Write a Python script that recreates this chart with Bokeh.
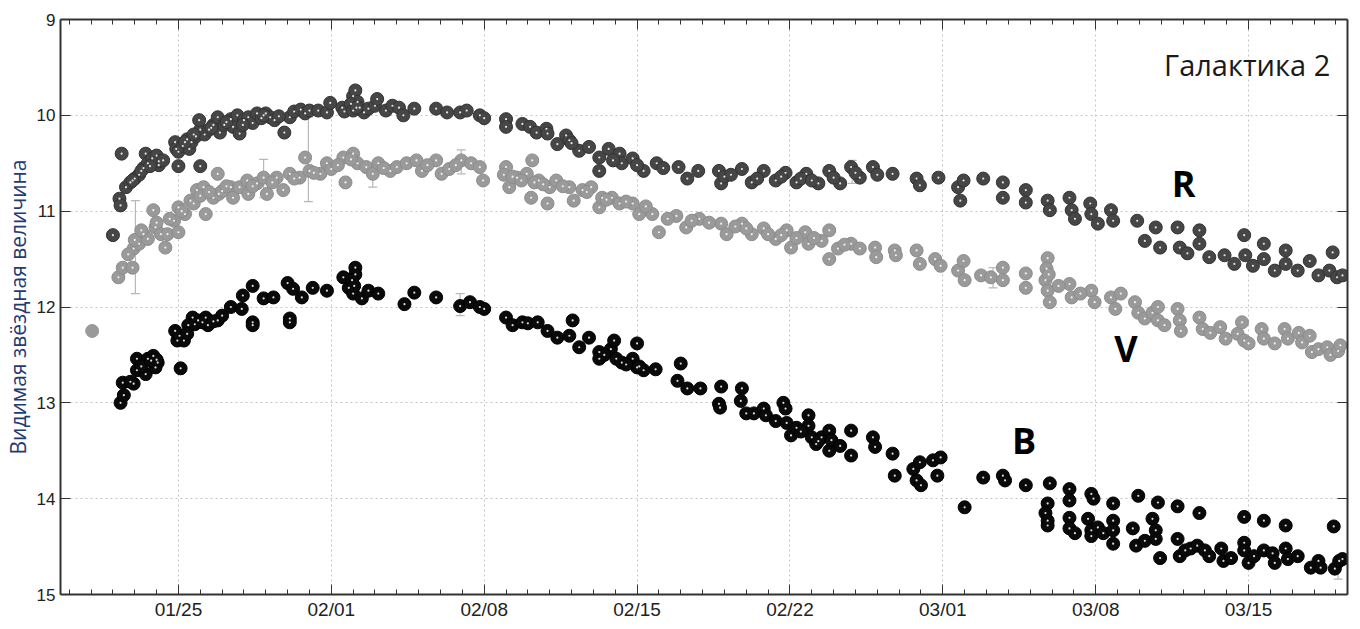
from bokeh.plotting import figure
from bokeh.models import (Range1d, FixedTicker, LinearAxis, ColumnDataSource,
                          Whisker, TeeHead, Label)
from bokeh.embed import file_html
from bokeh.resources import INLINE

# x = day of year (Jan 25 = 25, Feb 1 = 32, ...)
tick_days = [25, 32, 39, 46, 53, 60, 67, 74]
tick_labels = ["01/25", "02/01", "02/08", "02/15", "02/22", "03/01", "03/08", "03/15"]
minor_days = list(range(20, 79))
mag_ticks = [9, 10, 11, 12, 13, 14, 15]

r_day = [22.0, 22.4, 22.3, 22.35, 22.6, 22.8, 23.0, 23.2, 23.4, 23.5, 23.6, 23.8, 24.0, 24.1, 24.1,
         24.85, 24.9, 25.0, 25.0, 25.2, 25.4, 25.5, 25.6, 26.0, 25.8, 26.0, 25.95, 26.2, 26.4, 26.6,
         26.8, 26.9, 27.1, 27.4, 27.5, 27.7, 27.8, 28.0, 28.2, 28.4, 28.6, 28.8, 29.0, 29.2, 29.4,
         29.85, 30.1, 30.3, 30.6, 30.8, 31.0, 31.4, 31.8, 31.95, 32.5, 32.6, 33.0, 33.1, 33.2, 33.3,
         33.5, 33.7, 34.0, 34.1, 34.5, 34.8, 35.1, 35.3, 35.8, 36.8, 37.9, 38.2, 38.8, 39.0, 40.0,
         40.0, 40.75, 41.1, 41.4, 41.85, 41.9, 42.35, 42.75, 42.9, 43.35, 43.8, 44.27, 44.27, 44.7,
         45.2, 45.3, 45.8, 46.3, 46.9, 47.9, 48.3, 48.8, 49.75, 49.85, 50.8, 51.25, 51.8, 52.35,
         52.8, 53.3, 53.75, 54.3, 54.8, 55.3, 55.8, 56.2, 56.8, 57.7, 58.8, 58.95, 59.8, 60.7, 60.8,
         60.95, 61.85, 62.75, 62.75, 63.8, 63.8, 64.8, 64.9, 65.8, 65.9, 66.05, 66.75, 66.8, 67.1,
         67.7, 67.8, 68.9, 69.25, 69.75, 69.95, 70.75, 70.85, 71.2, 71.75, 71.75, 72.2, 72.9, 73.35,
         73.8, 73.85, 74.2, 74.7, 74.7, 75.2, 75.7, 75.7, 76.25, 76.8, 77.2, 77.7, 77.85, 78.05, 78.3,
         22.9, 23.3, 23.7, 24.3, 25.3, 25.7, 26.5, 27.2, 27.95, 28.9, 29.6, 32.9, 33.0, 33.15, 37.3,
         43.0, 44.9, 46.0, 47.2, 50.0, 50.3, 51.5, 52.6, 53.5, 54.0, 55.0, 56.0, 57.0]
r_mag = [11.25, 10.40, 10.87, 10.94, 10.75, 10.70, 10.66, 10.62, 10.55, 10.40, 10.50, 10.45, 10.42, 10.52, 10.48,
         10.28, 10.35, 10.38, 10.53, 10.32, 10.25, 10.35, 10.28, 10.53, 10.22, 10.15, 10.05, 10.20, 10.15, 10.10,
         10.02, 10.18, 10.10, 10.04, 10.12, 10.00, 10.19, 10.05, 10.02, 10.08, 9.98, 10.03, 9.98, 10.02, 10.05,
         10.18, 10.02, 9.96, 9.94, 9.98, 9.95, 9.95, 9.97, 9.87, 9.92, 9.96, 9.80, 9.74, 9.86, 9.92,
         9.97, 9.93, 9.90, 9.83, 9.95, 9.90, 9.92, 10.00, 9.93, 9.93, 9.97, 9.95, 10.00, 10.03, 10.04,
         10.12, 10.09, 10.12, 10.18, 10.14, 10.19, 10.30, 10.21, 10.26, 10.37, 10.33, 10.44, 10.58, 10.35,
         10.40, 10.50, 10.45, 10.58, 10.50, 10.54, 10.66, 10.58, 10.58, 10.71, 10.56, 10.70, 10.58, 10.68,
         10.60, 10.70, 10.61, 10.71, 10.58, 10.71, 10.54, 10.65, 10.54, 10.61, 10.66, 10.73, 10.65, 10.75, 10.89,
         10.68, 10.66, 10.70, 10.86, 10.78, 10.91, 10.89, 10.99, 10.86, 10.99, 11.08, 10.92, 11.03, 11.13,
         10.99, 11.10, 11.10, 11.31, 11.17, 11.38, 11.17, 11.38, 11.44, 11.20, 11.34, 11.48, 11.46, 11.55,
         11.25, 11.46, 11.57, 11.34, 11.50, 11.62, 11.41, 11.55, 11.62, 11.52, 11.67, 11.62, 11.43, 11.69, 11.67,
         10.68, 10.58, 10.53, 10.47, 10.28, 10.20, 10.13, 10.07, 10.10, 10.00, 10.01, 9.88, 9.95, 9.92, 9.97,
         10.29, 10.47, 10.52, 10.55, 10.64, 10.62, 10.66, 10.64, 10.66, 10.68, 10.65, 10.60, 10.62]

v_day = [22.25, 22.45, 22.9, 22.95, 23.2, 23.4, 23.6, 23.85, 23.95, 24.2, 24.4, 24.5, 24.8, 25.0, 25.0,
         25.3, 25.55, 25.85, 26.15, 26.25, 26.6, 26.8, 26.85, 27.4, 27.5, 27.8, 28.15, 28.2, 28.6, 28.9,
         29.05, 29.5, 29.8, 30.1, 30.55, 30.8, 31.0, 31.5, 31.8, 32.55, 32.65, 33.0, 33.2, 33.6, 33.9,
         34.15, 34.7, 35.0, 35.45, 35.9, 36.15, 36.8, 37.05, 37.4, 37.95, 38.4, 38.8, 38.95, 40.0, 40.15,
         40.5, 40.95, 41.15, 41.2, 41.5, 41.9, 42.0, 42.3, 42.9, 43.1, 43.5, 43.9, 44.27, 44.4, 44.85,
         45.2, 45.8, 46.1, 46.7, 47.0, 47.8, 48.25, 48.85, 49.85, 50.1, 50.8, 51.25, 51.8, 52.35, 52.85,
         53.05, 53.7, 53.85, 54.45, 54.8, 54.8, 55.2, 55.8, 56.2, 56.9, 56.95, 57.8, 57.85, 58.8, 58.95,
         59.65, 59.9, 60.7, 60.95, 61.0, 61.75, 62.2, 62.75, 62.75, 63.8, 63.8, 64.8, 64.7, 64.8, 64.9,
         65.8, 65.9, 66.8, 66.95, 67.7, 67.9, 68.15, 68.8, 68.95, 69.25, 69.6, 69.85, 69.85, 70.15, 70.75,
         70.85, 70.9, 71.75, 71.9, 72.25, 72.7, 72.95, 73.5, 73.7, 73.8, 74.0, 74.6, 74.7, 75.2, 75.65,
         75.8, 76.3, 76.45, 76.8, 76.9, 77.2, 77.6, 77.75, 78.1, 78.2,
         22.7, 23.0, 23.3, 24.0, 24.6, 25.15, 25.7, 26.0, 26.4, 27.0, 27.2, 28.4, 29.3, 30.3, 31.2,
         32.0, 32.3, 32.9, 34.4, 36.4, 37.7, 39.9, 40.3, 40.7, 41.3, 41.7, 42.6, 43.7, 44.6, 45.5,
         46.4, 47.4, 48.5, 49.3, 50.5, 51.0, 52.0, 52.6, 53.3, 54.1, 55.5, 64.75, 64.85, 65.3, 66.3]
v_mag = [11.69, 11.59, 11.59, 11.39, 11.34, 11.24, 11.29, 10.99, 11.17, 11.24, 11.38, 11.24, 11.10, 10.96, 11.22,
         11.03, 10.89, 10.78, 10.75, 11.03, 10.86, 10.61, 10.82, 10.75, 10.86, 10.75, 10.68, 10.82, 10.71, 10.65,
         10.82, 10.65, 10.78, 10.61, 10.65, 10.44, 10.58, 10.61, 10.50, 10.44, 10.70, 10.40, 10.50, 10.54, 10.61,
         10.50, 10.58, 10.54, 10.50, 10.47, 10.58, 10.47, 10.61, 10.56, 10.47, 10.50, 10.54, 10.68, 10.54, 10.75,
         10.65, 10.61, 10.86, 10.47, 10.68, 10.92, 10.75, 10.68, 10.75, 10.89, 10.78, 10.75, 10.96, 10.86, 10.86,
         10.92, 10.92, 11.03, 11.03, 11.22, 11.05, 11.17, 11.08, 11.13, 11.24, 11.13, 11.24, 11.18, 11.29, 11.20,
         11.38, 11.22, 11.34, 11.31, 11.20, 11.50, 11.39, 11.34, 11.39, 11.38, 11.48, 11.41, 11.46, 11.41, 11.55,
         11.50, 11.57, 11.62, 11.52, 11.72, 11.67, 11.69, 11.59, 11.72, 11.65, 11.80, 11.49, 11.72, 11.83, 11.95,
         11.76, 11.90, 11.83, 11.95, 11.90, 12.02, 11.86, 11.95, 12.06, 12.12, 12.06, 12.00, 12.14, 12.19, 12.02,
         12.14, 12.25, 12.11, 12.23, 12.27, 12.21, 12.33, 12.28, 12.16, 12.35, 12.38, 12.23, 12.33, 12.38, 12.23,
         12.33, 12.27, 12.37, 12.30, 12.47, 12.44, 12.42, 12.50, 12.46, 12.40,
         11.45, 11.30, 11.20, 11.12, 11.08, 11.00, 10.92, 10.84, 10.80, 10.79, 10.74, 10.74, 10.70, 10.66, 10.60,
         10.56, 10.52, 10.46, 10.55, 10.52, 10.52, 10.62, 10.64, 10.68, 10.70, 10.72, 10.74, 10.80, 10.88, 10.90,
         10.95, 11.08, 11.10, 11.12, 11.16, 11.18, 11.24, 11.25, 11.28, 11.28, 11.35, 11.60, 11.66, 11.78, 11.86]

# early V measurement without flag
v0_day = [21.05]
v0_mag = [12.25]

b_day = [22.35, 22.5, 22.45, 22.95, 23.1, 23.1, 23.5, 23.6, 23.85, 24.05, 23.95, 24.85, 24.95, 25.25, 25.1,
         25.65, 25.45, 25.9, 26.25, 26.35, 26.8, 27.0, 27.4, 27.9, 28.4, 28.4, 30.1, 30.1, 27.95, 28.4,
         28.9, 29.35, 30.0, 30.25, 30.65, 31.15, 31.8, 32.55, 32.8, 33.1, 33.1, 33.0, 33.4, 33.7, 34.15,
         35.35, 35.8, 36.8, 37.9, 38.35, 38.8, 39.0, 40.0, 40.3, 40.75, 41.0, 41.45, 41.9, 42.35, 42.9,
         43.05, 43.35, 43.8, 44.27, 44.27, 44.8, 44.95, 45.05, 45.3, 45.8, 46.0, 46.0, 46.3, 46.85, 47.85,
         48.0, 48.3, 48.9, 49.75, 49.8, 49.85, 50.75, 50.8, 51.0, 51.35, 51.8, 51.9, 52.35, 52.7, 52.8,
         52.85, 53.05, 53.3, 53.85, 53.85, 54.0, 54.2, 54.45, 54.8, 54.8, 54.9, 55.3, 55.8, 55.8, 56.8,
         56.9, 57.7, 57.8, 58.65, 58.95, 58.8, 59.0, 59.55, 59.9, 59.75, 61.0, 61.85, 62.75, 62.85, 63.8,
         64.9, 64.8, 64.7, 64.8, 64.8, 65.8, 65.8, 65.8, 65.8, 66.05, 66.8, 66.9, 66.65, 66.8, 66.8,
         67.1, 67.35, 67.8, 67.8, 67.8, 67.8, 68.95, 68.7, 68.85, 69.25, 69.6, 69.75, 69.75, 69.85, 69.95,
         70.75, 70.75, 70.85, 71.1, 71.35, 71.75, 71.65, 72.0, 72.2, 72.75, 72.85, 73.2, 73.8, 73.8, 73.8,
         74.0, 74.25, 74.7, 74.7, 75.1, 75.2, 75.7, 75.7, 75.8, 76.25, 76.85, 77.2, 77.3, 77.9, 77.95,
         78.15, 78.3,
         22.8, 23.3, 23.75, 24.0, 25.05, 25.4, 25.75, 26.1, 26.6, 32.95, 33.05, 44.5, 45.5, 46.1, 53.5, 54.3]
b_mag = [13.00, 12.92, 12.79, 12.80, 12.54, 12.66, 12.70, 12.54, 12.51, 12.58, 12.63, 12.25, 12.35, 12.35, 12.64,
         12.11, 12.19, 12.14, 12.11, 12.19, 12.14, 12.09, 12.00, 12.02, 12.16, 12.19, 12.12, 12.16, 11.88, 11.78,
         11.91, 11.90, 11.75, 11.81, 11.90, 11.80, 11.83, 11.69, 11.80, 11.59, 11.66, 11.86, 11.91, 11.83, 11.86,
         11.97, 11.85, 11.90, 11.99, 11.95, 12.00, 12.02, 12.11, 12.19, 12.16, 12.17, 12.16, 12.25, 12.32, 12.30,
         12.14, 12.42, 12.32, 12.47, 12.54, 12.44, 12.35, 12.54, 12.58, 12.54, 12.38, 12.63, 12.66, 12.65, 12.77,
         12.59, 12.85, 12.85, 13.01, 13.05, 12.83, 12.98, 12.85, 13.11, 13.11, 13.06, 13.13, 13.19, 13.00, 13.06,
         13.21, 13.34, 13.26, 13.13, 13.24, 13.36, 13.43, 13.36, 13.29, 13.50, 13.39, 13.45, 13.29, 13.55, 13.36,
         13.46, 13.53, 13.76, 13.69, 13.62, 13.81, 13.86, 13.60, 13.57, 13.76, 14.09, 13.78, 13.76, 13.81, 13.86,
         13.84, 14.05, 14.15, 14.23, 14.28, 13.90, 14.02, 14.20, 14.31, 14.36, 13.95, 14.00, 14.21, 14.33, 14.39,
         14.30, 14.36, 14.05, 14.23, 14.33, 14.47, 13.97, 14.31, 14.49, 14.44, 14.21, 14.33, 14.42, 14.04, 14.62,
         14.08, 14.42, 14.60, 14.54, 14.52, 14.15, 14.49, 14.54, 14.60, 14.52, 14.65, 14.62, 14.19, 14.46, 14.54,
         14.67, 14.60, 14.23, 14.54, 14.57, 14.67, 14.28, 14.52, 14.63, 14.60, 14.72, 14.65, 14.72, 14.29, 14.73,
         14.65, 14.63,
         12.78, 12.62, 12.56, 12.55, 12.30, 12.28, 12.18, 12.16, 12.15, 11.72, 11.78, 12.50, 12.60, 12.62, 13.30, 13.40]

# error bars
eb_day = [23.03, 28.9, 30.95, 33.9, 37.95, 37.9, 55.85, 62.3, 78.1]
eb_lo = [10.89, 10.46, 10.02, 10.65, 10.36, 11.86, 10.47, 11.59, 14.72]
eb_hi = [11.86, 10.86, 10.90, 10.75, 10.61, 12.09, 10.71, 11.80, 14.84]

R_COLOR = "#464646"
V_COLOR = "#9a9a9a"
B_COLOR = "#0a0a0a"

p = figure(width=1360, height=629, output_backend="svg", toolbar_location=None,
           x_range=Range1d(19.6, 78.53), y_range=Range1d(15, 9),
           min_border_left=60, min_border_right=13, min_border_top=19, min_border_bottom=35)
p.outline_line_color = None
p.background_fill_color = "white"
p.border_fill_color = "white"

xt = FixedTicker(ticks=tick_days, minor_ticks=minor_days)
yt = FixedTicker(ticks=mag_ticks, minor_ticks=[])

ax = p.xaxis[0]
ax.ticker = xt
ax.major_label_overrides = {d: lab for d, lab in zip(tick_days, tick_labels)}
ay = p.yaxis[0]
ay.ticker = yt
ay.axis_label = "Видимая звёздная величина"
ay.axis_label_text_font = "Open Sans"
ay.axis_label_text_font_style = "normal"
ay.axis_label_text_font_size = "21px"
ay.axis_label_text_color = "#1f3b73"
ay.axis_label_standoff = 2

for a in (ax, ay):
    a.axis_line_color = "#333333"
    a.axis_line_width = 2
    a.major_tick_in = 10
    a.major_tick_out = 0
    a.minor_tick_in = 5
    a.minor_tick_out = 0
    a.major_tick_line_color = "#333333"
    a.minor_tick_line_color = "#333333"
    a.major_label_text_font = "Liberation Sans"
    a.major_label_text_color = "#222222"
    a.major_label_standoff = 5
ax.major_label_text_font_size = "19px"
ay.major_label_text_font_size = "17px"
ax.major_label_standoff = 4

top = LinearAxis(ticker=xt, major_label_text_color=None, major_label_standoff=0,
                 major_label_text_font_size="1px",
                 axis_line_color="#333333", axis_line_width=2,
                 major_tick_in=10, major_tick_out=0, minor_tick_in=5, minor_tick_out=0,
                 major_tick_line_color="#333333", minor_tick_line_color="#333333")
right = LinearAxis(ticker=yt, major_label_text_color=None, major_label_standoff=0,
                   major_label_text_font_size="1px",
                   axis_line_color="#333333", axis_line_width=2,
                   major_tick_in=10, major_tick_out=0, minor_tick_line_color=None,
                   major_tick_line_color="#333333")
p.add_layout(top, "above")
p.add_layout(right, "right")

p.xgrid.ticker = xt
p.ygrid.ticker = yt
for g in (p.xgrid[0], p.ygrid[0]):
    g.grid_line_color = "#c4c4c4"
    g.grid_line_dash = "2 3"
    g.grid_line_width = 1

eb_src = ColumnDataSource(dict(d=eb_day, lo=eb_lo, hi=eb_hi))
p.add_layout(Whisker(source=eb_src, base="d", lower="lo", upper="hi", dimension="height",
                     line_color="#b8b8b8", line_width=1.2,
                     upper_head=TeeHead(size=9, line_color="#b8b8b8", line_width=1.2),
                     lower_head=TeeHead(size=9, line_color="#b8b8b8", line_width=1.2)))

def series(xs, ys, color, edge):
    p.scatter(xs, ys, marker="circle", size=13, fill_color=color, line_color=edge, line_width=1)
    p.scatter(xs, ys, marker="circle", size=2.2, fill_color="white", line_color=None, fill_alpha=0.85)

series(r_day, r_mag, R_COLOR, "#333333")
p.scatter(v0_day, v0_mag, marker="circle", size=13, fill_color=V_COLOR, line_color=V_COLOR)
series(v_day, v_mag, V_COLOR, "#8c8c8c")
series(b_day, b_mag, B_COLOR, "#000000")

p.add_layout(Label(x=77.74, y=9.47, text="Галактика 2", text_align="right", text_baseline="middle",
                   text_font="Open Sans", text_font_size="29px", text_color="#1a1a1a"))
for txt, lx, ly in (("R", 71.03, 10.71), ("V", 68.38, 12.43), ("B", 63.72, 13.39)):
    p.add_layout(Label(x=lx, y=ly, text=txt, text_align="center", text_baseline="middle",
                       text_font="Open Sans", text_font_style="bold", text_font_size="36px",
                       text_color="#000000"))

open("out.html", "w").write(file_html(p, INLINE))
